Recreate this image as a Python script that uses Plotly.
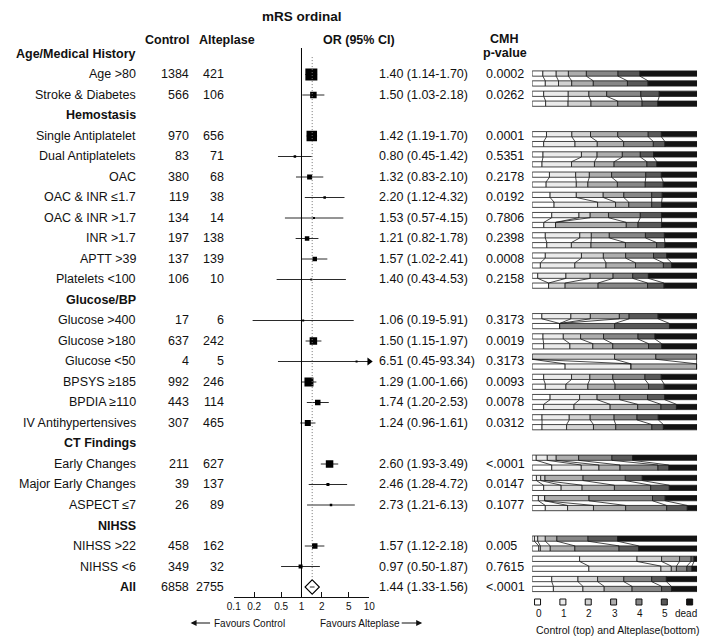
import plotly.graph_objects as go
import numpy as np

W, H = 705, 638
FONT = "Liberation Sans, Arial, Helvetica, sans-serif"

# ---------------- data ----------------
row_labels = ["Age/Medical History", "Age >80", "Stroke & Diabetes", "Hemostasis",
              "Single Antiplatelet", "Dual Antiplatelets", "OAC", "OAC & INR ≤1.7",
              "OAC & INR >1.7", "INR >1.7", "APTT >39", "Platelets <100", "Glucose/BP",
              "Glucose >400", "Glucose >180", "Glucose <50", "BPSYS ≥185", "BPDIA ≥110",
              "IV Antihypertensives", "CT Findings", "Early Changes", "Major Early Changes",
              "ASPECT ≤7", "NIHSS", "NIHSS >22", "NIHSS <6", "All"]
is_header = [True, False, False, True, False, False, False, False, False, False, False, False,
             True, False, False, False, False, False, False, True, False, False, False, True,
             False, False, False]
summary_label = "All"

n_control = [None, 1384, 566, None, 970, 83, 380, 119, 134, 197, 137, 106, None,
             17, 637, 4, 992, 443, 307, None, 211, 39, 26, None, 458, 349, 6858]
n_alteplase = [None, 421, 106, None, 656, 71, 68, 38, 14, 138, 139, 10, None,
               6, 242, 5, 246, 114, 465, None, 627, 137, 89, None, 162, 32, 2755]
odds_ratio = [None, 1.40, 1.50, None, 1.42, 0.80, 1.32, 2.20, 1.53, 1.21, 1.57, 1.40, None,
              1.06, 1.50, 6.51, 1.29, 1.74, 1.24, None, 2.60, 2.46, 2.73, None, 1.57, 0.97, 1.44]
ci_low = [None, 1.14, 1.03, None, 1.19, 0.45, 0.83, 1.12, 0.57, 0.82, 1.02, 0.43, None,
          0.19, 1.15, 0.45, 1.00, 1.20, 0.96, None, 1.93, 1.28, 1.21, None, 1.12, 0.50, 1.33]
ci_high = [None, 1.70, 2.18, None, 1.70, 1.42, 2.10, 4.32, 4.15, 1.78, 2.41, 4.53, None,
           5.91, 1.97, 93.34, 1.66, 2.53, 1.61, None, 3.49, 4.72, 6.13, None, 2.18, 1.87, 1.56]
p_value = [None, "0.0002", "0.0262", None, "0.0001", "0.5351", "0.2178", "0.0192", "0.7806",
           "0.2398", "0.0008", "0.2158", None, "0.3173", "0.0019", "0.3173", "0.0093", "0.0078",
           "0.0312", None, "<.0001", "0.0147", "0.1077", None, "0.005", "0.7615", "<.0001"]

mrs_categories = ["0", "1", "2", "3", "4", "5", "dead"]
# mRS distribution (%) for control (top bar) and alteplase (bottom bar)
mrs_control = [None,
    [6.5, 8.1, 7.4, 10.9, 19.2, 13.3, 34.6],
    [7.0, 14.9, 12.5, 10.8, 20.7, 11.2, 22.9],
    None,
    [8.7, 15.4, 11.3, 16.5, 18.5, 8.0, 21.6],
    [6.6, 23.3, 9.5, 15.3, 10.9, 8.0, 26.4],
    [10.5, 15.9, 8.3, 13.5, 20.7, 9.5, 21.6],
    [10.9, 15.9, 16.3, 12.5, 16.9, 6.4, 21.1],
    [11.9, 16.5, 6.8, 11.1, 19.3, 12.9, 21.5],
    [8.0, 20.9, 7.0, 10.9, 21.9, 11.5, 19.8],
    [8.0, 21.9, 13.3, 13.5, 16.9, 8.0, 18.4],
    [3.4, 17.1, 14.7, 13.9, 11.9, 9.5, 29.5],
    None,
    [5.9, 17.6, 11.8, 17.6, 5.9, 17.6, 23.6],
    [6.6, 12.3, 10.5, 13.9, 20.9, 10.3, 25.5],
    [0, 0, 50.0, 25.0, 25.0, 0, 0],
    [7.0, 16.9, 11.1, 13.9, 19.5, 9.9, 21.7],
    [10.9, 17.9, 10.6, 13.7, 16.9, 10.4, 19.6],
    [6.0, 16.5, 12.7, 14.5, 13.9, 12.9, 23.5],
    None,
    [2.5, 6.7, 5.4, 13.6, 20.2, 12.5, 39.1],
    [2.6, 2.6, 2.6, 23.1, 25.6, 10.3, 33.2],
    [3.8, 3.8, 0, 26.9, 38.5, 7.7, 19.3],
    None,
    [1.4, 2.0, 4.6, 7.0, 18.9, 17.9, 48.2],
    [28.8, 34.8, 14.9, 10.9, 7.0, 1.8, 1.8],
    [11.9, 15.9, 11.9, 15.9, 16.9, 8.9, 18.6]]
mrs_alteplase = [None,
    [8.0, 8.0, 8.0, 13.1, 20.7, 12.5, 29.7],
    [8.2, 13.6, 13.9, 16.2, 14.8, 9.5, 23.8],
    None,
    [7.0, 19.0, 13.5, 16.0, 18.0, 7.0, 19.5],
    [6.0, 17.9, 13.9, 11.9, 19.9, 6.0, 24.4],
    [8.5, 18.3, 7.0, 17.9, 16.9, 10.9, 20.5],
    [13.3, 26.4, 10.9, 8.0, 13.9, 6.0, 21.5],
    [7.1, 7.1, 0, 42.9, 7.1, 14.3, 21.5],
    [8.9, 14.9, 11.9, 20.9, 18.9, 5.0, 19.5],
    [5.0, 20.9, 18.9, 17.9, 16.9, 5.0, 15.4],
    [10.0, 0, 10.0, 20.0, 30.0, 10.0, 20.0],
    None,
    [16.7, 0, 0, 0, 33.3, 33.3, 16.7],
    [7.0, 15.9, 13.9, 12.1, 21.7, 8.0, 21.4],
    [20.0, 40.0, 0, 40.0, 0, 0, 0],
    [8.0, 12.5, 13.3, 16.5, 20.3, 9.5, 19.9],
    [7.0, 18.4, 21.9, 16.7, 14.1, 9.4, 12.5],
    [6.0, 14.9, 16.3, 13.5, 21.9, 7.0, 20.4],
    None,
    [11.9, 17.9, 10.7, 12.8, 23.0, 6.6, 17.1],
    [7.0, 10.6, 12.7, 19.6, 22.0, 11.3, 16.8],
    [8.0, 13.5, 15.7, 19.5, 24.9, 12.5, 5.9],
    None,
    [4.0, 1.0, 6.0, 14.9, 26.8, 11.9, 35.4],
    [34.4, 43.7, 6.3, 3.1, 6.3, 3.1, 3.1],
    [12.9, 17.9, 12.9, 16.9, 17.9, 6.0, 15.5]]

tick_values = [0.1, 0.2, 0.5, 1, 2, 5, 10]
tick_labels = ["0.1", "0.2", "0.5", "1", "2", "5", "10"]

# ---------------- styles ----------------
mrs_colors = ["#ffffff", "#ebebeb", "#d2d2d2", "#adadad", "#878787", "#585858", "#131313"]
box_sizes = [None, 12, 6.5, None, 10.5, 2.5, 5, 2.5, 2, 4.5, 4.5, 2, None,
             2, 7.5, 2, 9, 5.5, 6, None, 7.5, 3, 2.5, None, 5.5, 4, None]

ROW0, PITCH = 54.0, 20.5          # text / forest rows (px)
G_ROW1, G_PITCH = 78.5, 20.22     # grotta rows (px)
TOP, BOT = 48.0, 597.0

rows = list(range(len(row_labels)))
data_rows = [r for r in rows if not is_header[r]]
isum = row_labels.index(summary_label)
forest_rows = [r for r in data_rows if r != isum]

fig = go.Figure()

# ---- forest: CI lines ----
xmax = tick_values[-1]
cx, cy = [], []
for r in data_rows:
    cx += [ci_low[r], min(ci_high[r], xmax), None]
    cy += [r, r, None]
fig.add_trace(go.Scatter(x=cx, y=cy, mode="lines", line=dict(color="#2a2a2a", width=1),
                         hoverinfo="skip", xaxis="x", yaxis="y"))
# truncated CI arrows
arr = [r for r in data_rows if ci_high[r] > xmax]
fig.add_trace(go.Scatter(x=[xmax] * len(arr), y=arr, mode="markers",
                         marker=dict(symbol="triangle-right", size=7, color="#000"),
                         cliponaxis=False, hoverinfo="skip", xaxis="x", yaxis="y"))
# squares
fig.add_trace(go.Scatter(x=[odds_ratio[r] for r in forest_rows], y=forest_rows, mode="markers",
                         marker=dict(symbol="square", size=[box_sizes[r] for r in forest_rows],
                                     color="#000", opacity=1, line=dict(width=0)),
                         hoverinfo="skip", xaxis="x", yaxis="y"))
# summary diamond
fig.add_trace(go.Scatter(x=[odds_ratio[isum]], y=[isum], mode="markers",
                         marker=dict(symbol="diamond-open", size=11, color="#000",
                                     line=dict(width=1.1, color="#000")),
                         hoverinfo="skip", xaxis="x", yaxis="y"))

fig.add_shape(type="line", xref="x", yref="y domain", x0=1, x1=1, y0=0, y1=1,
              line=dict(color="#000", width=1))
fig.add_shape(type="line", xref="x", yref="y", x0=odds_ratio[isum], x1=odds_ratio[isum],
              y0=0.15, y1=isum - 0.35, line=dict(color="#777", width=1, dash="1px,2px"))

# ---- grotta bars ----
BH = 0.26
OFF = 0.245
g_rows = [r for r in data_rows]
ctrl = {r: np.array(mrs_control[r], float) / np.sum(mrs_control[r]) * 100 for r in g_rows}
alte = {r: np.array(mrs_alteplase[r], float) / np.sum(mrs_alteplase[r]) * 100 for r in g_rows}
for k in range(len(mrs_categories)):
    for dist, sgn in ((ctrl, -1), (alte, 1)):
        fig.add_trace(go.Bar(
            orientation="h",
            y=[r + sgn * OFF for r in g_rows],
            x=[dist[r][k] for r in g_rows],
            base=[float(np.sum(dist[r][:k])) for r in g_rows],
            width=BH,
            marker=dict(color=mrs_colors[k], line=dict(color="#1a1a1a", width=0.8)),
            hoverinfo="skip", xaxis="x2", yaxis="y2"))
lx, ly = [], []
for r in g_rows:
    cc = np.cumsum(ctrl[r])
    ca = np.cumsum(alte[r])
    for j in range(len(mrs_categories) - 1):
        lx += [cc[j], ca[j], None]
        ly += [r - OFF + BH / 2, r + OFF - BH / 2, None]
fig.add_trace(go.Scatter(x=lx, y=ly, mode="lines", line=dict(color="#1a1a1a", width=0.8),
                         hoverinfo="skip", xaxis="x2", yaxis="y2"))

# ---- grotta legend ----
fig.add_trace(go.Scatter(x=list(range(len(mrs_categories))), y=[0.857] * len(mrs_categories),
                         mode="markers",
                         marker=dict(symbol="square", size=6, color=mrs_colors,
                                     line=dict(color="#111", width=1)),
                         cliponaxis=False, hoverinfo="skip", xaxis="x3", yaxis="y3"))

ann = []
def txt(x, y, s, anchor="left", size=12.5, bold=False, yref="y", xref="paper", **kw):
    ann.append(dict(x=x, y=y, xref=xref, yref=yref, text=("<b>%s</b>" % s) if bold else s,
                    showarrow=False, xanchor=anchor, yanchor="middle",
                    font=dict(family=FONT, size=size, color="#111"), **kw))

for r in rows:
    txt(133 / W, r, row_labels[r], "right", bold=is_header[r] or r == isum)
for r in data_rows:
    txt(187 / W, r, str(n_control[r]), "right")
    txt(223 / W, r, str(n_alteplase[r]), "right")
    txt(377 / W, r, "%.2f (%.2f-%.2f)" % (odds_ratio[r], ci_low[r], ci_high[r]), "left")
    txt(486 / W, r, p_value[r], "left")

def py(p):
    return 1 - p / H
txt(301 / W, py(17), "mRS ordinal", "center", size=13.5, bold=True, yref="paper")
txt(187 / W, py(40), "Control", "right", bold=True, yref="paper")
txt(224.5 / W, py(40), "Alteplase", "center", bold=True, yref="paper")
txt(359 / W, py(40), "OR (95% CI)", "center", bold=True, yref="paper")
txt(506.5 / W, py(39), "CMH", "center", bold=True, yref="paper")
txt(507 / W, py(53), "p-value", "center", bold=True, yref="paper")

last = len(mrs_categories) - 1
for k, c in enumerate(mrs_categories):
    if k < last:
        txt(k, 0.595, c, "left", size=10, xref="x3", yref="y3", xshift=-4)
    else:
        txt(705 / W, 0.595, c, "right", size=10, xref="paper", yref="y3")
txt(537 / W, py(630), "Control (top) and Alteplase(bottom)", "left", size=10.5, yref="paper")

txt(209 / W, py(623), "Favours Control", "left", size=10, yref="paper")
txt(317 / W, py(623), "Favours Alteplase", "left", size=10, yref="paper")
ann.append(dict(x=187 / W, y=py(623), xref="paper", yref="paper", text="", showarrow=True,
                ax=21, ay=0, arrowhead=2, arrowsize=1, arrowwidth=1.2, arrowcolor="#111"))
ann.append(dict(x=423 / W, y=py(623), xref="paper", yref="paper", text="", showarrow=True,
                ax=-22, ay=0, arrowhead=2, arrowsize=1, arrowwidth=1.2, arrowcolor="#111"))

yr_forest = [(BOT - ROW0) / PITCH, (TOP - ROW0) / PITCH]
yr_grotta = [1 + (BOT - G_ROW1) / G_PITCH, 1 + (TOP - G_ROW1) / G_PITCH]
ydom = [1 - BOT / H, 1 - TOP / H]

fig.update_layout(
    width=W, height=H, margin=dict(l=0, r=0, t=0, b=0),
    paper_bgcolor="white", plot_bgcolor="rgba(0,0,0,0)",
    showlegend=False, barmode="overlay", hovermode=False,
    font=dict(family=FONT, color="#111"),
    xaxis=dict(domain=[231 / W, 369 / W], type="log", range=[-1, 1],
               tickvals=tick_values, ticktext=tick_labels, ticks="inside", ticklen=5,
               tickcolor="#111", showline=True, linecolor="#111", linewidth=1,
               showgrid=False, zeroline=False, tickfont=dict(size=10, family=FONT, color="#111"),
               anchor="y", fixedrange=True),
    yaxis=dict(domain=ydom, range=yr_forest, visible=False, anchor="x", fixedrange=True),
    xaxis2=dict(domain=[535 / W, 703 / W], range=[0, 100], visible=False, anchor="y2",
                fixedrange=True),
    yaxis2=dict(domain=ydom, range=yr_grotta, visible=False, anchor="x2", fixedrange=True),
    xaxis3=dict(domain=[535 / W, 703 / W], range=[-0.213, 6.291], visible=False, anchor="y3",
                fixedrange=True),
    yaxis3=dict(domain=[0, 42 / H], range=[0, 1], visible=False, anchor="x3", fixedrange=True),
    annotations=ann,
)

fig.write_html("out.html", config={"displayModeBar": False, "staticPlot": True},
               post_script="document.body.style.margin='0px';document.body.style.padding='0px';"
                           "document.body.style.overflow='hidden';")
